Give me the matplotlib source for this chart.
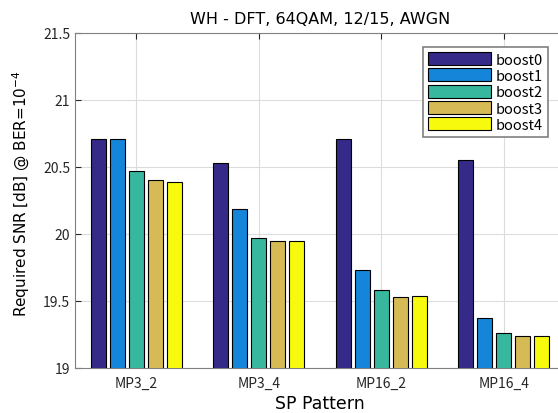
import numpy as np
import matplotlib
matplotlib.use("Agg")
import matplotlib.pyplot as plt

plt.rcParams['font.family'] = ['Noto Sans CJK JP', 'DejaVu Sans']

patterns = ['MP3_2', 'MP3_4', 'MP16_2', 'MP16_4']
labels = ['boost0', 'boost1', 'boost2', 'boost3', 'boost4']
# required SNR [dB], rows = boost level, columns = SP pattern
snr = np.array([
    [20.71, 20.53, 20.71, 20.55],
    [20.71, 20.19, 19.73, 19.37],
    [20.47, 19.97, 19.58, 19.26],
    [20.40, 19.95, 19.53, 19.24],
    [20.39, 19.95, 19.54, 19.24],
])
colors = ['#352a87', '#1485d8', '#37b89e', '#d6ba55', '#f8fa0d']

fig = plt.figure(figsize=(5.58, 4.14), dpi=100)
ax = fig.add_axes([75/558, 45/414, 490/558, 335/414])

x = np.arange(1, len(patterns) + 1)
w = 0.123
step = 0.155
for i in range(len(labels)):
    ax.bar(x + (i - 2) * step, snr[i], width=w, color=colors[i],
           edgecolor='black', linewidth=0.8, label=labels[i], zorder=3)

ax.set_xlim(0.5, 4.5)
ax.set_ylim(19, 21.5)
ax.set_xticks(x)
ax.set_xticklabels(patterns)
ax.set_yticks([19, 19.5, 20, 20.5, 21, 21.5])
ax.set_yticklabels(['19', '19.5', '20', '20.5', '21', '21.5'])
ax.grid(True, color='#dcdcdc', linewidth=0.8, zorder=0)
ax.tick_params(direction='in', top=True, right=True, labelsize=10,
               colors='#262626', length=4)
ax.tick_params(axis='x', pad=6)
for s in ax.spines.values():
    s.set_color('#808080')

ax.set_title('WH - DFT, 64QAM, 12/15, AWGN', fontsize=11.5,
             family='DejaVu Sans', pad=7)
ax.set_xlabel('SP Pattern', fontsize=12.5, family='DejaVu Sans', labelpad=3)
ax.set_ylabel('Required SNR [dB] @ BER=10$^{-4}$', fontsize=11,
              family='DejaVu Sans')
ax.yaxis.set_label_coords(-0.088, 0.525)

leg = ax.legend(loc='upper right', bbox_to_anchor=(0.965, 0.958),
                borderaxespad=0, fontsize=10.5, fancybox=False, framealpha=1,
                edgecolor='#808080', handlelength=4.3, handleheight=1.0,
                labelspacing=0.12, borderpad=0.35, handletextpad=0.3)
leg.get_frame().set_linewidth(1.2)

fig.savefig('out.png', dpi=100)
